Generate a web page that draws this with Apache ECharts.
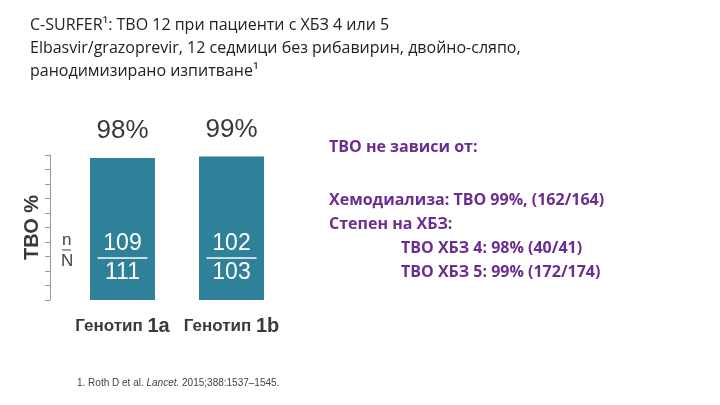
<!DOCTYPE html>
<html><head><meta charset="utf-8">
<script src="https://cdn.jsdelivr.net/npm/echarts@6/dist/echarts.min.js"></script>
<style>html,body{margin:0;background:#fff}#main{width:720px;height:405px}</style>
</head><body><div id="main"></div>
<script>
var categories = ['1a', '1b'];
var svrValues = [98, 99];
var nValues = [109, 102];
var totalValues = [111, 103];
var yTicks = [0, 10, 20, 30, 40, 50, 60, 70, 80, 90, 100];

var chart = echarts.init(document.getElementById('main'));
var sans = 'Liberation Sans, Arial, sans-serif';
var calibri = 'Open Sans, Noto Sans, sans-serif';
var purple = '#6b2d90';
chart.setOption({
  animation: false,
  grid: { left: 68, width: 218, top: 155, height: 145 },
  xAxis: {
    type: 'category', data: categories,
    axisLine: { show: false }, axisTick: { show: false },
    axisLabel: {
      margin: 16, interval: 0,
      formatter: function (v) { return '{a|Генотип }{b|' + v + '}'; },
      rich: {
        a: { fontFamily: sans, fontWeight: 'bold', fontSize: 17, color: '#3a3a3a' },
        b: { fontFamily: sans, fontWeight: 'bold', fontSize: 20, color: '#3a3a3a' }
      }
    }
  },
  yAxis: {
    type: 'value', min: yTicks[0], max: yTicks[yTicks.length - 1], interval: 10,
    offset: 18,
    name: 'ТВО %', nameLocation: 'middle', nameGap: 8, nameRotate: 90,
    nameTextStyle: { fontFamily: sans, fontWeight: 'bold', fontSize: 20, color: '#3a3a3a' },
    axisLine: { show: true, lineStyle: { color: '#999' } },
    axisTick: { show: true, length: 5, lineStyle: { color: '#999' } },
    axisLabel: { show: false }, splitLine: { show: false }
  },
  series: [{
    type: 'bar', barWidth: 65,
    itemStyle: { color: '#2e8199' },
    data: svrValues,
    label: {
      show: true, position: 'top', distance: 14,
      formatter: '{c}%', fontFamily: sans, fontSize: 26, color: '#3a3a3a'
    }
  }, {
    type: 'custom', z: 10, clip: false,
    encode: { x: 0, y: 1 },
    data: svrValues.map(function (v, i) { return [i, 29, nValues[i], totalValues[i]]; }),
    renderItem: function (params, api) {
      var p = api.coord([api.value(0), api.value(1)]);
      return { type: 'group', children: [
        { type: 'text', style: { x: p[0], y: p[1] - 14, text: String(api.value(2)), fill: '#fff', font: '23px ' + sans, align: 'center', verticalAlign: 'middle' } },
        { type: 'line', shape: { x1: p[0] - 25, y1: p[1], x2: p[0] + 25, y2: p[1] }, style: { stroke: '#fff', lineWidth: 1.5 } },
        { type: 'text', style: { x: p[0], y: p[1] + 15, text: String(api.value(3)), fill: '#fff', font: '23px ' + sans, align: 'center', verticalAlign: 'middle' } }
      ]};
    }
  }],
  graphic: [
    { type: 'text', left: 30, top: 14, style: { text: 'C-SURFER¹: ТВО 12 при пациенти с ХБЗ 4 или 5\nElbasvir/grazoprevir, 12 седмици без рибавирин, двойно-сляпо,\nранодимизирано изпитване¹', font: '16px ' + calibri, fill: '#222', lineHeight: 23 } },
    { type: 'text', left: 62, top: 232, style: { text: 'n', font: '17px ' + sans, fill: '#444' } },
    { type: 'line', shape: { x1: 62, y1: 250, x2: 71, y2: 250 }, style: { stroke: '#444', lineWidth: 1 } },
    { type: 'text', left: 61, top: 253, style: { text: 'N', font: '17px ' + sans, fill: '#444' } },
    { type: 'text', left: 77, top: 378, style: { text: '1. Roth D et al. {i|Lancet.} 2015;388:1537–1545.', font: '10px ' + sans, fill: '#444', rich: { i: { fontStyle: 'italic', fontSize: 10, fontFamily: sans, fill: '#444' } } } },
    { type: 'text', left: 329, top: 139, style: { text: 'ТВО не зависи от:', font: 'bold 16px ' + calibri, fill: purple } },
    { type: 'text', left: 329, top: 188, style: { text: 'Хемодиализа: ТВО 99%, (162/164)\nСтепен на ХБЗ:', font: 'bold 16px ' + calibri, fill: purple, lineHeight: 24 } },
    { type: 'text', left: 401, top: 236, style: { text: 'ТВО ХБЗ 4: 98% (40/41)\nТВО ХБЗ 5: 99% (172/174)', font: 'bold 16px ' + calibri, fill: purple, lineHeight: 24 } }
  ]
});
</script></body></html>
